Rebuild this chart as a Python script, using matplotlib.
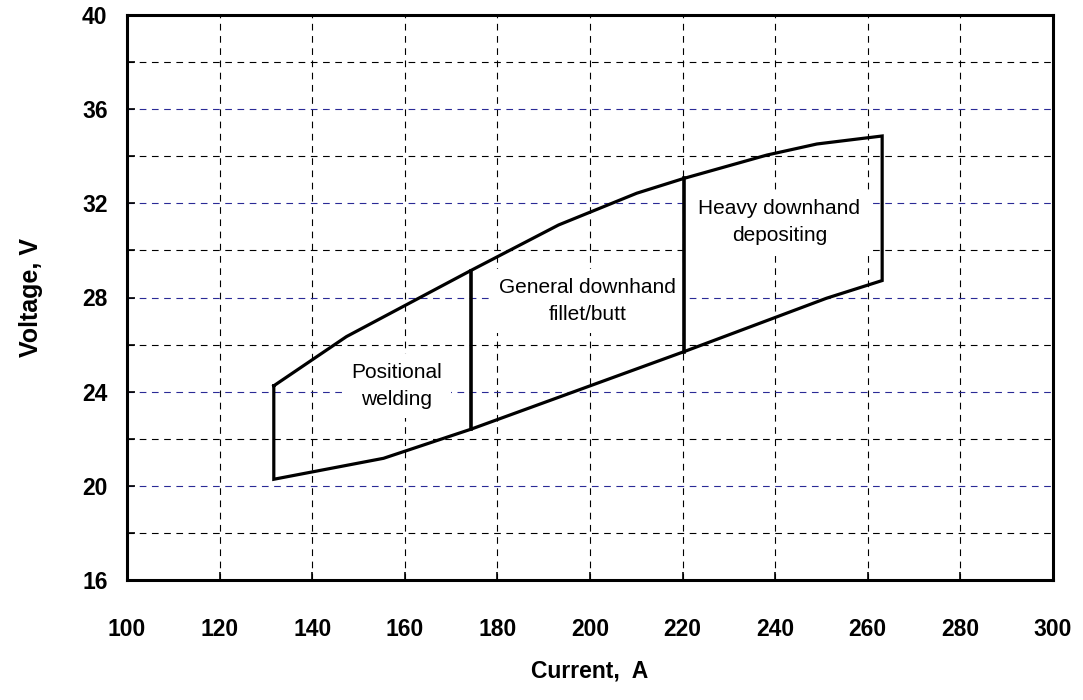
import matplotlib
matplotlib.use("Agg")
import matplotlib.pyplot as plt
import numpy as np

plt.rcParams["font.family"] = ["Liberation Sans", "DejaVu Sans"]

# envelope of the welding window
upper_current = [131.7, 147.4, 174.2, 193.2, 210.1, 220.3, 238.2, 249.0, 263.1]
upper_voltage = [24.25, 26.34, 29.14, 31.08, 32.43, 33.06, 34.05, 34.52, 34.86]
lower_current = [131.7, 155.4, 174.2, 220.3, 251.1, 263.1]
lower_voltage = [20.28, 21.17, 22.40, 25.70, 27.97, 28.72]

# region boundaries (current, A)
divider_current = [174.2, 220.3]

region_labels = [
    "Positional\nwelding",
    "General downhand\nfillet/butt",
    "Heavy downhand\ndepositing",
]

x_ticks = list(range(100, 301, 20))
y_major = list(range(16, 41, 4))
y_minor = list(range(18, 40, 4))

fig = plt.figure(figsize=(10.83, 7.0), dpi=100)
ax = fig.add_axes([0.1173, 0.1714, 0.8550, 0.8072])

dash = (0, (6, 5))
ax.set_xlim(100, 300)
ax.set_ylim(16, 40)
ax.set_xticks(x_ticks)
ax.set_yticks(y_major)
ax.set_yticks(y_minor, minor=True)

ax.grid(True, axis="x", which="major", color="black", lw=0.8, linestyle=dash)
ax.grid(True, axis="y", which="major", color="#2a2a96", lw=0.8, linestyle=dash)
ax.grid(True, axis="y", which="minor", color="black", lw=0.8, linestyle=dash)
ax.set_axisbelow(True)

# closed outline: upper edge, right side, lower edge back, left side
outline_x = upper_current + lower_current[::-1] + [upper_current[0]]
outline_y = upper_voltage + lower_voltage[::-1] + [upper_voltage[0]]
ax.plot(outline_x, outline_y, color="black", lw=2.3, zorder=4,
        solid_joinstyle="miter")

for cur in divider_current:
    v_lo = np.interp(cur, lower_current, lower_voltage)
    v_hi = np.interp(cur, upper_current, upper_voltage)
    ax.plot([cur, cur], [v_lo, v_hi], color="black", lw=2.6, zorder=4)

label_box = dict(facecolor="white", edgecolor="none", boxstyle="square,pad=0.45")
ax.text(158.2, 24.24, region_labels[0], ha="center", va="center", fontsize=15,
        linespacing=1.5, bbox=label_box, zorder=3)
ax.text(199.4, 27.85, region_labels[1], ha="center", va="center", fontsize=15,
        linespacing=1.5, bbox=label_box, zorder=3)
ax.text(240.9, 31.2, region_labels[2], ha="center", va="center", fontsize=15,
        linespacing=1.5, bbox=label_box, zorder=3)

for side in ["left", "bottom", "right", "top"]:
    ax.spines[side].set_linewidth(2.2)
    ax.spines[side].set_zorder(5)

ax.tick_params(axis="both", which="both", direction="in", length=6, width=1.2,
               top=False, right=False)
ax.tick_params(axis="x", pad=27, labelsize=16.5)
ax.tick_params(axis="y", which="major", pad=14, labelsize=16.5)
for lbl in ax.get_xticklabels() + ax.get_yticklabels():
    lbl.set_fontweight("bold")

ax.set_xlabel("Current,  A", fontsize=16.5, fontweight="bold", labelpad=14)
ax.set_ylabel("Voltage, V", fontsize=18, fontweight="bold", labelpad=28)

fig.savefig("out.png", dpi=100)
